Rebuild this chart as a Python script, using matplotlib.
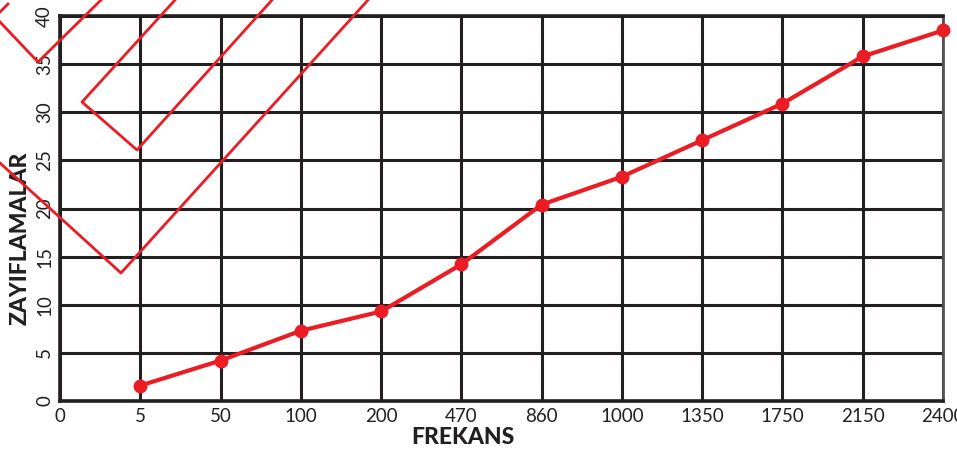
import matplotlib
matplotlib.use("Agg")
import matplotlib.pyplot as plt
from matplotlib.lines import Line2D

# Data
categories = ["0", "5", "50", "100", "200", "470", "860", "1000", "1350", "1750", "2150", "2400"]
values = [None, 1.6, 4.2, 7.3, 9.3, 14.2, 20.4, 23.3, 27.1, 30.9, 35.8, 38.5]
y_ticks = [0, 5, 10, 15, 20, 25, 30, 35, 40]

RED = "#ec1c24"
INK = "#231f20"

W, H = 957, 449
fig = plt.figure(figsize=(W / 100, H / 100), dpi=100)
ax = fig.add_axes([60 / W, (H - 401) / H, 883 / W, 385 / H])

xs = list(range(len(categories)))
px = [x for x, v in zip(xs, values) if v is not None]
pv = [v for v in values if v is not None]
ax.plot(px, pv, color=RED, lw=3.0, marker="o", ms=9, zorder=5, clip_on=False)

ax.set_xlim(0, len(categories) - 1)
ax.set_ylim(0, 40)
ax.set_xticks(xs)
ax.set_xticklabels(categories)
ax.set_yticks(y_ticks)
ax.set_yticklabels([str(t) for t in y_ticks], rotation=90, va="center")
ax.grid(True, color=INK, lw=2.2)
ax.set_axisbelow(True)
ax.tick_params(length=0, labelsize=13.5, pad=5, colors=INK)
for lbl in ax.get_xticklabels() + ax.get_yticklabels():
    lbl.set_family(["Lato", "DejaVu Sans"])
    lbl.set_fontweight("normal")
for s in ["left", "bottom", "top"]:
    ax.spines[s].set_color(INK)
    ax.spines[s].set_linewidth(2.6)
ax.spines["right"].set_color("#555555")
ax.spines["right"].set_linewidth(2.0)

fig.text(463 / W, 1 - 438 / H, "FREKANS", ha="center", va="center", fontsize=16.5,
         fontweight="black", family=["Lato", "DejaVu Sans"], color=INK)
fig.text(20 / W, 1 - 238 / H, "ZAYIFLAMALAR", rotation=90, ha="center", va="center",
         fontsize=16.5, fontweight="black", family=["Lato", "DejaVu Sans"], color=INK)

# decorative cable outlines (figure pixel coordinates)
deco = [
    [(0, 22), (38, 62), (101, 0)],
    [(0, 12), (8, 4)],
    [(175, 0), (82, 102), (137, 150), (272, 0)],
    [(0, 163), (121, 273), (368, 0)],
]
for poly in deco:
    xx = [p[0] / W for p in poly]
    yy = [1 - p[1] / H for p in poly]
    fig.add_artist(Line2D(xx, yy, transform=fig.transFigure, color=RED, lw=2.0, zorder=10))

fig.savefig("out.png", dpi=100)
